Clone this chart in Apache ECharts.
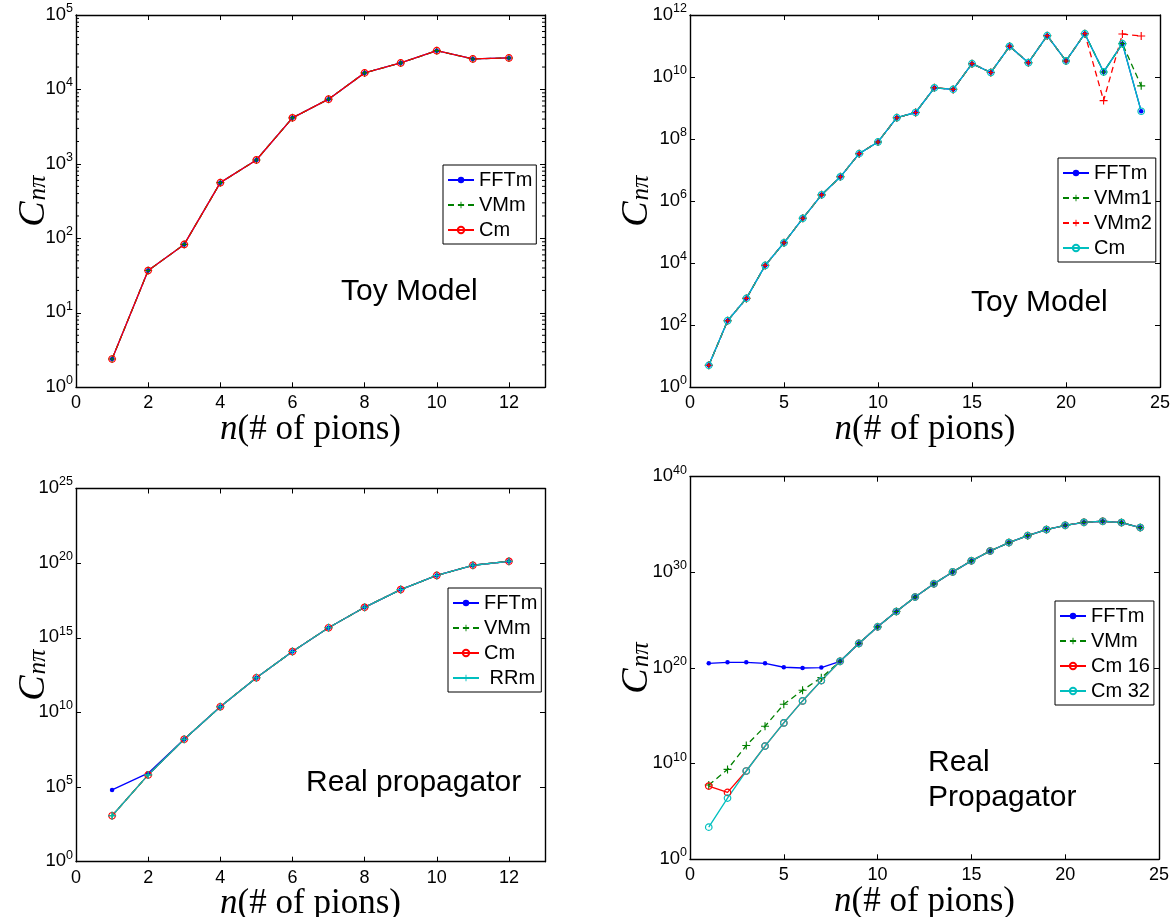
<!DOCTYPE html>
<html><head><meta charset="utf-8">
<script src="https://cdn.jsdelivr.net/npm/echarts@6/dist/echarts.min.js"></script>
<style>html,body{margin:0;padding:0;background:#fff}#c{width:1175px;height:917px}</style>
</head><body><div id="c"></div>
<script>
// ---------- data ----------
const nTwelve = [1,2,3,4,5,6,7,8,9,10,11,12];
const nTwentyFour = [1,2,3,4,5,6,7,8,9,10,11,12,13,14,15,16,17,18,19,20,21,22,23,24];

// Panel 1: Toy Model (n = 1..12)
const toyA_FFTm = [2.4, 37, 83, 560, 1130, 4160, 7400, 16700, 22700, 33200, 25700, 26500];
const toyA_VMm  = [2.4, 37, 83, 560, 1130, 4160, 7400, 16700, 22700, 33200, 25700, 26500];
const toyA_Cm   = [2.4, 37, 83, 560, 1130, 4160, 7400, 16700, 22700, 33200, 25700, 26500];

// Panel 2: Toy Model (n = 1..24)
const toyB_FFTm = [5.1, 140, 734, 8480, 4.55e4, 2.8e5, 1.6e6, 6.1e6, 3.4e7, 8.1e7, 4.9e8, 7.2e8, 4.5e9, 4.0e9, 2.7e10, 1.4e10, 9.8e10, 2.9e10, 2.16e11, 3.3e10, 2.5e11, 1.46e10, 1.19e11, 7.9e8];
const toyB_VMm1 = [5.1, 140, 734, 8480, 4.55e4, 2.8e5, 1.6e6, 6.1e6, 3.4e7, 8.1e7, 4.9e8, 7.2e8, 4.5e9, 4.0e9, 2.7e10, 1.4e10, 9.8e10, 2.9e10, 2.16e11, 3.3e10, 2.5e11, 1.46e10, 1.19e11, 5.2e9];
const toyB_VMm2 = [5.1, 140, 734, 8480, 4.55e4, 2.8e5, 1.6e6, 6.1e6, 3.4e7, 8.1e7, 4.9e8, 7.2e8, 4.5e9, 4.0e9, 2.7e10, 1.4e10, 9.8e10, 2.9e10, 2.16e11, 3.3e10, 2.5e11, 1.74e9, 2.44e11, 2.1e11];
const toyB_Cm   = [5.1, 140, 734, 8480, 4.55e4, 2.8e5, 1.6e6, 6.1e6, 3.4e7, 8.1e7, 4.9e8, 7.2e8, 4.5e9, 4.0e9, 2.7e10, 1.4e10, 9.8e10, 2.9e10, 2.16e11, 3.3e10, 2.5e11, 1.46e10, 1.19e11, 7.9e8];

// Panel 3: Real propagator (n = 1..12)
const realA_FFTm = [6.4e4, 8.5e5, 1.6e8, 2.4e10, 2.1e12, 1.2e14, 4.7e15, 1.1e17, 1.7e18, 1.5e19, 7.2e19, 1.33e20];
const realA_VMm  = [1.2e3, 6.5e5, 1.6e8, 2.4e10, 2.1e12, 1.2e14, 4.7e15, 1.1e17, 1.7e18, 1.5e19, 7.2e19, 1.33e20];
const realA_Cm   = [1.2e3, 6.5e5, 1.6e8, 2.4e10, 2.1e12, 1.2e14, 4.7e15, 1.1e17, 1.7e18, 1.5e19, 7.2e19, 1.33e20];
const realA_RRm  = [1.2e3, 6.5e5, 1.6e8, 2.4e10, 2.1e12, 1.2e14, 4.7e15, 1.1e17, 1.7e18, 1.5e19, 7.2e19, 1.33e20];

// Panel 4: Real Propagator (n = 1..24)
const realB_FFTm = [3.1e20, 3.9e20, 3.9e20, 3.1e20, 1.2e20, 1.0e20, 1.1e20, 5.0e20, 3.7e22, 2.0e24, 8.1e25, 2.6e27, 6.3e28, 1.1e30, 1.6e31, 1.7e32, 1.3e33, 6.9e33, 3.0e34, 8.3e34, 1.7e35, 2.2e35, 1.6e35, 4.8e34];
const realB_VMm  = [5.8e7, 2.5e9, 7.9e11, 8.1e13, 1.6e16, 4.7e17, 9.8e18, 5.0e20, 3.7e22, 2.0e24, 8.1e25, 2.6e27, 6.3e28, 1.1e30, 1.6e31, 1.7e32, 1.3e33, 6.9e33, 3.0e34, 8.3e34, 1.7e35, 2.2e35, 1.6e35, 4.8e34];
const realB_Cm16 = [4.5e7, 9.8e6, 1.7e9, 6.8e11, 1.8e14, 3.6e16, 4.8e18, 5.0e20, 3.7e22, 2.0e24, 8.1e25, 2.6e27, 6.3e28, 1.1e30, 1.6e31, 1.7e32, 1.3e33, 6.9e33, 3.0e34, 8.3e34, 1.7e35, 2.2e35, 1.6e35, 4.8e34];
const realB_Cm32 = [2.3e3, 2.5e6, 1.7e9, 6.8e11, 1.8e14, 3.6e16, 4.8e18, 5.0e20, 3.7e22, 2.0e24, 8.1e25, 2.6e27, 6.3e28, 1.1e30, 1.6e31, 1.7e32, 1.3e33, 6.9e33, 3.0e34, 8.3e34, 1.7e35, 2.2e35, 1.6e35, 4.8e34];

// axis ranges (x max, x step, y max exponent, y step in decades)
const xMaxes = [13, 25, 13, 25];
const xSteps = [2, 5, 2, 5];
const yExpMaxes = [5, 12, 25, 40];
const yExpSteps = [1, 2, 5, 10];
// minor log ticks (panel 1 only): mantissas within each decade
const minorTickMantissas = [2, 3, 4, 5, 6, 7, 8, 9];

// legend labels per panel
const legendA = ['FFTm', 'VMm', 'Cm'];
const legendB = ['FFTm', 'VMm1', 'VMm2', 'Cm'];
const legendC = ['FFTm', 'VMm', 'Cm', ' RRm'];
const legendD = ['FFTm', 'VMm', 'Cm 16', 'Cm 32'];

// ---------- style ----------
const BLUE = '#0000ff', GREEN = '#008000', RED = '#ff0000', CYAN = '#00bfbf';
const PLUS = 'path://M-0.14,-1L0.14,-1L0.14,-0.14L1,-0.14L1,0.14L0.14,0.14L0.14,1L-0.14,1L-0.14,0.14L-1,0.14L-1,-0.14L-0.14,-0.14Z';
const SANS = '"Liberation Sans", Arial, Helvetica, sans-serif';
const SERIF = '"Liberation Serif", "Times New Roman", serif';

const grids = [
  {left: 76, top: 15, width: 469, height: 372.3},
  {left: 690, top: 15, width: 470, height: 372.3},
  {left: 76, top: 488.5, width: 469, height: 373.2},
  {left: 690, top: 476.7, width: 469, height: 382.6}
];
const yNameGaps = [25, 36, 25, 36];

const toLog = (ns, vals) => ns.map((n, i) => [n, Math.log10(vals[i])]);

const xAxes = [], yAxes = [];
grids.forEach((g, i) => {
  const common = {gridIndex: i, type: 'value', min: 0, axisLine: {show: true, onZero: false, lineStyle: {color: '#000', width: 1.4}},
    axisTick: {show: true, inside: true, length: 5, lineStyle: {color: '#000', width: 1}}, splitLine: {show: false}, nameMoveOverlap: false};
  xAxes.push(Object.assign({}, common, {
    position: 'bottom', max: xMaxes[i], interval: xSteps[i],
    axisLabel: {show: true, color: '#000', fontSize: 18, fontFamily: SANS, margin: 7, showMinLabel: true,
      formatter: v => (v % xSteps[i] === 0 ? String(v) : '')},
    name: '{i|n}{r|(# of pions)}', nameLocation: 'middle', nameGap: 25,
    nameTextStyle: {rich: {i: {fontFamily: SERIF, fontStyle: 'italic', fontSize: 35, color: '#000'}, r: {fontFamily: SERIF, fontSize: 35, color: '#000'}}}
  }));
  xAxes.push(Object.assign({}, common, {position: 'top', max: xMaxes[i], interval: xSteps[i], axisLabel: {show: false}}));
  yAxes.push(Object.assign({}, common, {
    position: 'left', max: yExpMaxes[i], interval: yExpSteps[i],
    axisLabel: {show: true, margin: 3, showMinLabel: true, showMaxLabel: true,
      formatter: v => '{b|10}{e|' + v + '}',
      rich: {b: {fontSize: 18.5, fontFamily: SANS, color: '#000', lineHeight: 18, verticalAlign: 'bottom'},
             e: {fontSize: 12.5, fontFamily: SANS, color: '#000', lineHeight: 12, padding: [0, 0, 9, 0], verticalAlign: 'bottom'}}},
    name: '{c|C}{s|nπ}', nameLocation: 'middle', nameRotate: 90, nameGap: yNameGaps[i],
    nameTextStyle: {rich: {c: {fontFamily: SERIF, fontStyle: 'italic', fontSize: 38, color: '#000', lineHeight: 36, verticalAlign: 'top'},
                           s: {fontFamily: SERIF, fontStyle: 'italic', fontSize: 25, color: '#000', lineHeight: 24, padding: [18, 0, 0, 1], verticalAlign: 'bottom'}}}
  }));
  yAxes.push(Object.assign({}, common, {position: 'right', max: yExpMaxes[i], interval: yExpSteps[i], axisLabel: {show: false}}));
});

function ser(panel, label, ns, vals, color, kind, dashed) {
  const s = {
    name: panel + '|' + label, type: 'line', xAxisIndex: panel * 2, yAxisIndex: panel * 2,
    data: toLog(ns, vals), animation: false, silent: true,
    lineStyle: {color: color, width: 1.3, type: dashed ? [6, 4] : 'solid'}
  };
  if (kind === 'dot') { s.symbol = 'circle'; s.symbolSize = 4.5; s.itemStyle = {color: color}; }
  if (kind === 'plus') { s.symbol = PLUS; s.symbolSize = 8; s.itemStyle = {color: color}; }
  if (kind === 'circle') { s.symbol = 'circle'; s.symbolSize = 6.5; s.itemStyle = {color: 'rgba(255,255,255,0)', borderColor: color, borderWidth: 1.2}; }
  return s;
}

// minor log ticks on panel 1 (left and right frame edges)
const minorTickData = [];
for (let d = 0; d < yExpMaxes[0]; d++) minorTickMantissas.forEach(m => minorTickData.push([0, d + Math.log10(m)]));
const minorTicks = {
  type: 'custom', xAxisIndex: 0, yAxisIndex: 0, silent: true, animation: false, z: 1,
  data: minorTickData,
  renderItem: (params, api) => {
    const y = api.value(1);
    const pl = api.coord([0, y]), pr = api.coord([xMaxes[0], y]);
    return {type: 'group', children: [
      {type: 'line', shape: {x1: pl[0], y1: pl[1], x2: pl[0] + 3, y2: pl[1]}, style: {stroke: '#000', lineWidth: 1}},
      {type: 'line', shape: {x1: pr[0], y1: pr[1], x2: pr[0] - 3, y2: pr[1]}, style: {stroke: '#000', lineWidth: 1}}
    ]};
  }
};

const series = [
  minorTicks,
  ser(0, legendA[0], nTwelve, toyA_FFTm, BLUE, 'dot', false),
  ser(0, legendA[1], nTwelve, toyA_VMm, GREEN, 'plus', true),
  ser(0, legendA[2], nTwelve, toyA_Cm, RED, 'circle', false),

  ser(1, legendB[0], nTwentyFour, toyB_FFTm, BLUE, 'dot', false),
  ser(1, legendB[1], nTwentyFour, toyB_VMm1, GREEN, 'plus', true),
  ser(1, legendB[2], nTwentyFour, toyB_VMm2, RED, 'plus', true),
  ser(1, legendB[3], nTwentyFour, toyB_Cm, CYAN, 'circle', false),

  ser(2, legendC[0], nTwelve, realA_FFTm, BLUE, 'dot', false),
  ser(2, legendC[1], nTwelve, realA_VMm, GREEN, 'plus', true),
  ser(2, legendC[2], nTwelve, realA_Cm, RED, 'circle', false),
  ser(2, legendC[3], nTwelve, realA_RRm, CYAN, 'plus', false),

  ser(3, legendD[0], nTwentyFour, realB_FFTm, BLUE, 'dot', false),
  ser(3, legendD[1], nTwentyFour, realB_VMm, GREEN, 'plus', true),
  ser(3, legendD[2], nTwentyFour, realB_Cm16, RED, 'circle', false),
  ser(3, legendD[3], nTwentyFour, realB_Cm32, CYAN, 'circle', false)
];

function leg(panel, labels, left, top) {
  return {
    show: true, orient: 'vertical', left: left, top: top, selectedMode: false,
    data: labels.map(l => panel + '|' + l),
    formatter: name => name.slice(name.indexOf('|') + 1),
    itemWidth: 26, itemHeight: 8, itemGap: 5,
    padding: [5, 4, 4, 4], borderColor: '#000', borderWidth: 1, backgroundColor: '#fff',
    textStyle: {fontSize: 20, fontFamily: SANS, color: '#000'}
  };
}

const txt = (t, x, y) => ({type: 'text', x: x, y: y, silent: true,
  style: {text: t, fontSize: 30, fontFamily: SANS, fill: '#000', align: 'left', verticalAlign: 'middle'}});

const option = {
  backgroundColor: '#fff',
  animation: false,
  grid: grids.map(g => Object.assign({containLabel: false, outerBoundsMode: 'none'}, g)),
  xAxis: xAxes,
  yAxis: yAxes,
  legend: [leg(0, legendA, 443, 165), leg(1, legendB, 1058, 158), leg(2, legendC, 448, 588), leg(3, legendD, 1055, 601)],
  graphic: [txt('Toy Model', 341, 292), txt('Toy Model', 971, 303), txt('Real propagator', 306, 783),
            txt('Real', 928, 763), txt('Propagator', 928, 798)],
  series: series
};

const chart = echarts.init(document.getElementById('c'), null, {renderer: 'canvas'});
chart.setOption(option);
</script>
</body></html>
